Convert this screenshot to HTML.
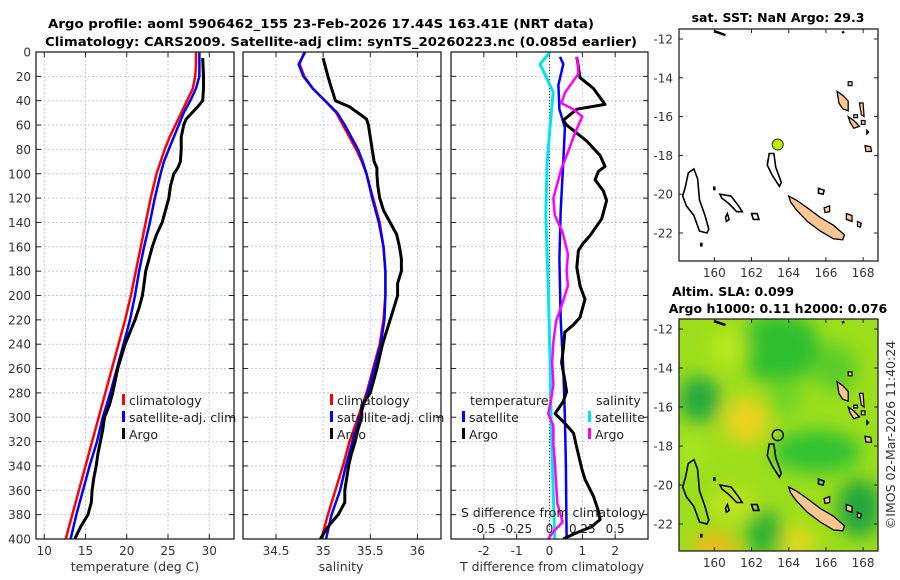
<!DOCTYPE html>
<html><head><meta charset="utf-8">
<style>
html,body{margin:0;padding:0;background:#fff;}
svg{display:block;font-family:"DejaVu Sans","Liberation Sans",sans-serif;}
</style></head>
<body>
<svg id="chart" width="900" height="580" viewBox="0 0 900 580" xmlns="http://www.w3.org/2000/svg">
<defs>
<clipPath id="cp1"><rect x="36" y="52" width="198" height="487"/></clipPath>
<clipPath id="cp2"><rect x="243" y="52" width="198" height="487"/></clipPath>
<clipPath id="cp3"><rect x="451" y="52" width="197" height="487"/></clipPath>
<clipPath id="cpm1"><rect x="679" y="29" width="199" height="232"/></clipPath>
<clipPath id="cpm2"><rect x="679" y="319" width="199" height="232"/></clipPath>
<filter id="blur" x="-50%" y="-50%" width="200%" height="200%"><feGaussianBlur stdDeviation="9"/></filter>
</defs>
<text x="321" y="28" text-anchor="middle" font-size="12.5" font-weight="bold" textLength="546" lengthAdjust="spacingAndGlyphs">Argo profile: aoml 5906462_155 23-Feb-2026 17.44S 163.41E (NRT data)</text>
<text x="341" y="46" text-anchor="middle" font-size="12.5" font-weight="bold" textLength="592" lengthAdjust="spacingAndGlyphs">Climatology: CARS2009. Satellite-adj clim: synTS_20260223.nc (0.085d earlier)</text>
<g id="layer"></g>
</svg>
<script>
// ---------- Data ----------
const climDepths = [0,10,20,30,40,50,60,70,80,90,100,120,140,160,180,200,220,240,260,280,300,320,340,360,380,400];
const tempClim   = [28.4,28.4,28.3,28.0,27.3,26.6,25.9,25.2,24.6,24.1,23.6,22.9,22.3,21.7,21.1,20.5,19.8,19.0,18.2,17.4,16.6,15.8,15.0,14.2,13.4,12.6];
const tempSat    = [28.8,28.8,28.8,28.4,27.7,26.9,26.3,25.7,25.1,24.5,24.1,23.4,22.8,22.1,21.5,21.0,20.4,19.6,18.8,18.0,17.1,16.4,15.5,14.7,13.9,13.2];
const salClim    = [34.80,34.75,34.80,34.89,35.02,35.14,35.21,35.28,35.35,35.41,35.46,35.53,35.60,35.64,35.66,35.66,35.64,35.60,35.53,35.46,35.37,35.28,35.21,35.13,35.05,34.98];
const salSat     = [34.81,34.74,34.79,34.89,35.02,35.15,35.23,35.30,35.37,35.42,35.46,35.52,35.59,35.64,35.66,35.66,35.65,35.61,35.54,35.47,35.39,35.31,35.24,35.18,35.09,35.03];
const argoDepths = [5,20,30,40,45,50,55,60,70,80,90,95,100,110,120,130,140,150,160,170,180,190,200,210,220,240,260,280,290,300,310,320,330,340,350,360,370,380,390,400];
const tempArgo   = [29.2,29.3,29.3,29.2,28.6,27.9,27.2,26.9,26.6,26.6,26.5,26.2,25.7,25.3,25.1,24.7,24.3,23.6,23.1,22.7,22.3,22.1,21.9,21.5,21.0,19.8,18.9,18.3,17.9,17.3,17.1,16.8,16.5,16.3,16.0,15.8,15.7,15.3,14.4,13.7];
const salArgo    = [35.00,35.05,35.09,35.13,35.28,35.37,35.46,35.48,35.50,35.52,35.54,35.57,35.57,35.58,35.60,35.64,35.71,35.78,35.81,35.83,35.83,35.79,35.79,35.75,35.71,35.63,35.57,35.50,35.41,35.41,35.37,35.34,35.30,35.27,35.25,35.23,35.23,35.16,35.05,34.97];
const dTArgoDepths = [4,21,30,43,47,56,60,73,85,94,98,105,114,122,137,151,157,163,177,192,203,218,224,230,244,255,270,279,287,297,305,313,325,342,351,365,377,384,390,396,400];
const dTArgo       = [0.83,0.93,1.34,1.69,0.83,0.42,0.52,1.13,1.54,1.69,1.49,1.39,1.64,1.74,1.59,1.23,1.03,0.88,0.83,0.93,1.08,0.93,0.73,0.47,0.42,0.37,0.47,0.52,0.42,0.17,0.47,0.73,0.83,0.98,1.08,1.34,1.49,1.54,1.28,0.73,0.42];
const dTSatDepths  = [4,10,27,47,62,90,130,170,220,260,300,340,400];
const dTSat        = [0.32,0.42,0.27,0.30,0.47,0.42,0.34,0.30,0.34,0.42,0.47,0.50,0.52];
const dSArgoDepths = [4,18,24,33,42,47,53,65,85,96,120,134,148,166,180,192,206,221,238,255,273,287,297,307,322,336,354,371,386,394,400];
const dSArgo       = [0.21,0.22,0.18,0.12,0.09,0.18,0.25,0.20,0.13,0.09,0.03,0.04,0.10,0.14,0.13,0.14,0.10,0.05,0.03,0.02,0.03,0.01,-0.01,0.03,0.03,0.04,0.05,0.06,0.10,0.03,-0.01];
const dSSatDepths  = [0,10,21,33,62,91,134,192,250,307,365,400];
const dSSat        = [0.004,-0.072,-0.023,0.028,0.004,-0.018,-0.028,-0.01,0.004,0.013,0.03,0.04];
const depthTicks = [0,20,40,60,80,100,120,140,160,180,200,220,240,260,280,300,320,340,360,380,400];
const tempTicks = [10,15,20,25,30];
const salTicks = [34.5,35,35.5,36];
const dTTicks = [-2,-1,0,1,2];
const dSTicks = [-0.5,-0.25,0,0.25,0.5];
const dSTickLabels = ["-0.5","-0.25","0","0.25","0.5"];
const lonTicks = [160,162,164,166,168];
const latTicks = [-12,-14,-16,-18,-20,-22];
const argoLon = 163.41, argoLat = -17.44;

// ---------- geometry helpers ----------
const NS="http://www.w3.org/2000/svg";
const layer=document.getElementById('layer');
function el(tag,attrs,parent){const e=document.createElementNS(NS,tag);for(const k in attrs)e.setAttribute(k,attrs[k]);(parent||layer).appendChild(e);return e;}
function lin(d0,d1,r0,r1){return v=>r0+(v-d0)/(d1-d0)*(r1-r0);}
const yD = lin(0,400,52,539);
const P1={x0:36,x1:234,sx:lin(9,33,36,234)};
const P2={x0:243,x1:441,sx:lin(34.15,36.25,243,441)};
const P3={x0:451,x1:648,sx:lin(-3,3,451,648)};
const sxS = v=>P3.sx(v*4);

function panelFrame(P,ticks,sx,name){
  const g=el('g',{});
  
  
  depthTicks.forEach(d=>{el('line',{x1:P.x0,x2:P.x1,y1:yD(d),y2:yD(d),stroke:'#c4c8ec','stroke-width':1,'stroke-dasharray':'2,2'},g);});
  ticks.forEach(t=>{el('line',{x1:sx(t),x2:sx(t),y1:52,y2:539,stroke:'#c4c8ec','stroke-width':1,'stroke-dasharray':'2,2'},g);});
  depthTicks.forEach(d=>{el('line',{x1:P.x0,x2:P.x0+5,y1:yD(d),y2:yD(d),stroke:'#222'},g);el('line',{x1:P.x1-5,x2:P.x1,y1:yD(d),y2:yD(d),stroke:'#222'},g);});
  ticks.forEach(t=>{el('line',{x1:sx(t),x2:sx(t),y1:539,y2:534,stroke:'#222'},g);el('line',{x1:sx(t),x2:sx(t),y1:52,y2:57,stroke:'#222'},g);});
  return g;
}
function drawLine(P,clip,depths,vals,sx,color,w,name){
  const pts=depths.map((d,i)=>sx(vals[i]).toFixed(1)+','+yD(d).toFixed(1)).join(' ');
  const pl=el('polyline',{points:pts,fill:'none',stroke:color,'stroke-width':w,'stroke-linejoin':'round','clip-path':'url(#'+clip+')'});
  
  
}
function border(P,name){const r=el('rect',{x:P.x0,y:52,width:P.x1-P.x0,height:487,fill:'none',stroke:'#222','stroke-width':1.3});
  
  }
function txt(x,y,s,attrs,name){const t=el('text',Object.assign({x:x,y:y,'font-size':12,fill:'#333'},attrs||{}));t.textContent=s;
  
  
  return t;}

// Panel 1
panelFrame(P1,tempTicks,P1.sx,'temperature-grid');
drawLine(P1,'cp1',climDepths,tempClim,P1.sx,'#ff0000',2.5,'temp-climatology-line');
drawLine(P1,'cp1',climDepths,tempSat,P1.sx,'#0000ff',2.5,'temp-satellite-line');
drawLine(P1,'cp1',argoDepths,tempArgo,P1.sx,'#000',3,'temp-argo-line');
border(P1,'temperature-axes');
depthTicks.forEach(d=>txt(31,yD(d)+4.5,String(d),{'text-anchor':'end'},'depth-tick-label'));
tempTicks.forEach(t=>txt(P1.sx(t),555,String(t),{'text-anchor':'middle'},'temp-tick-label'));
txt(135,571,'temperature (deg C)',{'text-anchor':'middle','font-size':12.5},'temp-axis-title');

// Panel 2
panelFrame(P2,salTicks,P2.sx,'salinity-grid');
drawLine(P2,'cp2',climDepths,salClim,P2.sx,'#ff0000',2.5,'sal-climatology-line');
drawLine(P2,'cp2',climDepths,salSat,P2.sx,'#0000ff',2.5,'sal-satellite-line');
drawLine(P2,'cp2',argoDepths,salArgo,P2.sx,'#000',3,'sal-argo-line');
border(P2,'salinity-axes');
salTicks.forEach(t=>txt(P2.sx(t),555,String(t),{'text-anchor':'middle'},'sal-tick-label'));
txt(341,571,'salinity',{'text-anchor':'middle','font-size':12.5},'sal-axis-title');

// Panel 3
panelFrame(P3,dTTicks,P3.sx,'difference-grid');
el('line',{x1:P3.sx(0),x2:P3.sx(0),y1:52,y2:539,stroke:'#333','stroke-width':1,'stroke-dasharray':'1,2'});
drawLine(P3,'cp3',dSSatDepths,dSSat,sxS,'#00e5ee',3,'dS-satellite-line');
drawLine(P3,'cp3',dTSatDepths,dTSat,P3.sx,'#0000ff',2.5,'dT-satellite-line');
drawLine(P3,'cp3',dTArgoDepths,dTArgo,P3.sx,'#000',3,'dT-argo-line');
drawLine(P3,'cp3',dSArgoDepths,dSArgo,sxS,'#ff00ff',2.5,'dS-argo-line');
border(P3,'difference-axes');
dTTicks.forEach(t=>txt(P3.sx(t),555,String(t),{'text-anchor':'middle'},'dT-tick-label'));
txt(552,571,'T difference from climatology',{'text-anchor':'middle','font-size':12.5},'dT-axis-title');
txt(553,517,'S difference from climatology',{'text-anchor':'middle','font-size':12.5,fill:'#222'},'dS-axis-title');
dSTicks.forEach((t,i)=>txt(sxS(t),533,dSTickLabels[i],{'text-anchor':'middle','fill':'#222'},'dS-tick-label'));

// Legends
function legItem(x,y,color,label,name){
  const g=el('g',{});
  
  
  el('rect',{x:x,y:y-11,width:3,height:11,fill:color},g);
  const t=el('text',{x:x+7,y:y,'font-size':12.5,fill:'#222'},g);t.textContent=label;
}
legItem(122,405,'#ff0000','climatology','legend-climatology');
legItem(122,422,'#0000ff','satellite-adj. clim','legend-satellite-adj');
legItem(122,439,'#000','Argo','legend-argo');
legItem(330,405,'#ff0000','climatology','legend-climatology-2');
legItem(330,422,'#0000ff','satellite-adj. clim','legend-satellite-adj-2');
legItem(330,439,'#000','Argo','legend-argo-2');
txt(470,405,'temperature',{'font-size':12.5,fill:'#222'},'legend-temperature-heading');
legItem(462,422,'#0000ff','satellite','legend-dT-satellite');
legItem(462,439,'#000','Argo','legend-dT-argo');
txt(596,405,'salinity',{'font-size':12.5,fill:'#222'},'legend-salinity-heading');
legItem(588,422,'#00e5ee','satellite','legend-dS-satellite');
legItem(588,439,'#ff00ff','Argo','legend-dS-argo');

// ---------- Maps ----------
const lonX = lin(158.1,168.8,679,878);
const latY1 = lin(-12,-22,39,233);
const latY2 = lin(-12,-22,329,524);
const reefChesterfield=[[158.45,-19.6],[158.6,-18.9],[158.9,-18.7],[159.1,-19.2],[159.2,-20.3],[159.5,-21.1],[159.7,-21.8],[159.6,-22.0],[159.2,-21.9],[158.9,-21.1],[158.5,-20.6],[158.3,-20.1]];
const reefBellona=[[160.3,-20.0],[160.9,-20.1],[161.3,-20.6],[161.5,-20.9],[161.2,-20.9],[160.8,-20.5],[160.4,-20.2]];
const reefSmall=[[160.7,-21.0],[160.8,-21.3],[160.65,-21.4],[160.6,-21.2]];
const reefSmall2=[[162.0,-21.0],[162.3,-21.0],[162.4,-21.3],[162.1,-21.3]];
const reefNorth=[[162.95,-17.9],[163.2,-17.9],[163.3,-18.6],[163.6,-19.4],[163.5,-19.6],[163.1,-19.0],[162.85,-18.5]];
const reefLoop=[[165.6,-19.7],[165.9,-19.8],[165.85,-20.0],[165.6,-19.95]];
const nouvelleCaledonie=[[164.0,-20.1],[164.4,-20.3],[165.0,-20.7],[165.7,-21.2],[166.4,-21.6],[167.0,-22.1],[166.9,-22.35],[166.4,-22.3],[165.7,-21.9],[165.0,-21.4],[164.4,-20.8],[164.1,-20.4]];
const lifou=[[165.9,-20.7],[166.2,-20.6],[166.2,-20.9],[165.95,-20.95]];
const mare=[[167.1,-21.0],[167.4,-21.1],[167.4,-21.4],[167.1,-21.3]];
const ouvea=[[167.7,-21.4],[167.9,-21.5],[167.85,-21.7],[167.7,-21.65]];
const santo=[[166.6,-14.7],[166.9,-14.9],[167.2,-15.2],[167.2,-15.7],[166.9,-15.6],[166.7,-15.3]];
const malekula=[[167.2,-16.0],[167.5,-16.2],[167.8,-16.5],[167.5,-16.6],[167.3,-16.3]];
const efate=[[168.1,-17.5],[168.4,-17.55],[168.45,-17.8],[168.15,-17.8]];
const vanuatuSmall=[[[167.8,-15.3],[168.0,-15.3],[168.05,-16.0],[167.9,-15.9]],[[167.9,-16.2],[168.1,-16.2],[168.1,-16.4],[167.9,-16.4]],[[167.2,-14.2],[167.4,-14.2],[167.4,-14.4],[167.2,-14.4]],[[167.5,-15.9],[167.7,-15.9],[167.7,-16.05],[167.5,-16.05]],[[168.2,-16.7],[168.3,-16.8],[168.2,-16.9]]];
const nWisps=[[[160.0,-11.6],[160.6,-11.8]],[[166.9,-11.6],[166.95,-11.7]],[[159.3,-22.5],[159.3,-22.7]],[[160.0,-19.6],[160.0,-19.8]]];

function poly(pts,ly,fill,g,w){return el('polygon',{points:pts.map(p=>lonX(p[0]).toFixed(1)+','+ly(p[1]).toFixed(1)).join(' '),fill:fill,stroke:'#000','stroke-width':w||1.6},g);}
function coast(ly,clip,name){
  const g=el('g',{'clip-path':'url(#'+clip+')'});
  
  
  [reefChesterfield,reefBellona,reefSmall,reefSmall2,reefNorth,reefLoop].forEach(r=>poly(r,ly,'none',g));
  [nouvelleCaledonie,lifou,mare,ouvea,santo,malekula,efate].forEach(r=>poly(r,ly,'#fdc690',g,1.3));
  vanuatuSmall.forEach(r=>poly(r,ly,'#fdc690',g,1.2));
  nWisps.forEach(r=>el('polyline',{points:r.map(p=>lonX(p[0])+','+ly(p[1])).join(' '),stroke:'#000','stroke-width':2.5,fill:'none'},g));
}
function mapAxes(ly,yTop,name){
  const g=el('g',{});
  
  
  el('rect',{x:679,y:yTop,width:199,height:232,fill:'none',stroke:'#222','stroke-width':1.3},g);
  lonTicks.forEach(l=>{el('line',{x1:lonX(l),x2:lonX(l),y1:yTop+232,y2:yTop+228,stroke:'#222'},g);el('line',{x1:lonX(l),x2:lonX(l),y1:yTop,y2:yTop+4,stroke:'#222'},g);
    const t=el('text',{x:lonX(l),y:yTop+248,'text-anchor':'middle','font-size':12,fill:'#333'},g);t.textContent=l;});
  latTicks.forEach(l=>{el('line',{x1:679,x2:683,y1:ly(l),y2:ly(l),stroke:'#222'},g);el('line',{x1:874,x2:878,y1:ly(l),y2:ly(l),stroke:'#222'},g);
    const t=el('text',{x:673,y:ly(l)+4.5,'text-anchor':'end','font-size':12,fill:'#333'},g);t.textContent=l;});
}
// Map 1
const m1=el('rect',{x:679,y:29,width:199,height:232,fill:'#fff'});


coast(latY1,'cpm1','sst-map-coastlines');
const dot=el('circle',{cx:lonX(argoLon),cy:latY1(argoLat),r:5.5,fill:'#b8f000',stroke:'#333','stroke-width':1});


mapAxes(latY1,29,'sst-map-axes');
txt(778,22,'sat. SST: NaN Argo: 29.3',{'text-anchor':'middle','font-weight':'bold','font-size':12.5,fill:'#000'},'sst-map-title');

// Map 2 (SLA field)
const blobs=[
 [163.5,-13,2.2,1.8,'#2fbf2f'],[159.2,-15.6,1.1,1.2,'#26a843'],[165.5,-18.3,2.4,1.1,'#33c233'],[167.8,-21.2,1.2,1.5,'#23a63c'],
 [162.7,-22.5,1.0,1.2,'#2cb334'],[161.7,-16.7,1.2,1.2,'#ecd21c'],[160.0,-23.2,1.2,0.8,'#efb81a'],[164.5,-22.9,0.9,0.8,'#e6d81e'],
 [158.8,-18.3,0.8,0.8,'#a8e622'],[166.5,-14.0,1.2,1.2,'#5ccc2a'],[161.0,-21.0,1.2,0.8,'#c4e41c'],[163.8,-15.5,0.9,1.0,'#6ed428'],[160.8,-13.0,1.0,1.0,'#b8e81e']];
const g2=el('g',{'clip-path':'url(#cpm2)'});


el('rect',{x:679,y:319,width:199,height:232,fill:'#9cde1c'},g2);
const gb=el('g',{filter:'url(#blur)'},g2);
blobs.forEach(b=>el('ellipse',{cx:lonX(b[0]),cy:latY2(b[1]),rx:b[2]*18.6,ry:b[3]*19.5,fill:b[4]},gb));
coast(latY2,'cpm2','sla-map-coastlines');
const ring=el('circle',{cx:lonX(argoLon),cy:latY2(argoLat),r:5.5,fill:'none',stroke:'#111','stroke-width':1.5});


mapAxes(latY2,319,'sla-map-axes');
txt(733,296,'Altim. SLA: 0.099',{'text-anchor':'middle','font-weight':'bold','font-size':12.5,fill:'#000'},'sla-map-title-1');
txt(778,313,'Argo h1000: 0.11 h2000: 0.076',{'text-anchor':'middle','font-weight':'bold','font-size':12.5,fill:'#000'},'sla-map-title-2');
txt(895,435,'©IMOS 02-Mar-2026 11:40:24',{'text-anchor':'middle','font-size':12.5,fill:'#333',transform:'rotate(-90 895 435)'},'copyright-label');
</script>
</body></html>
